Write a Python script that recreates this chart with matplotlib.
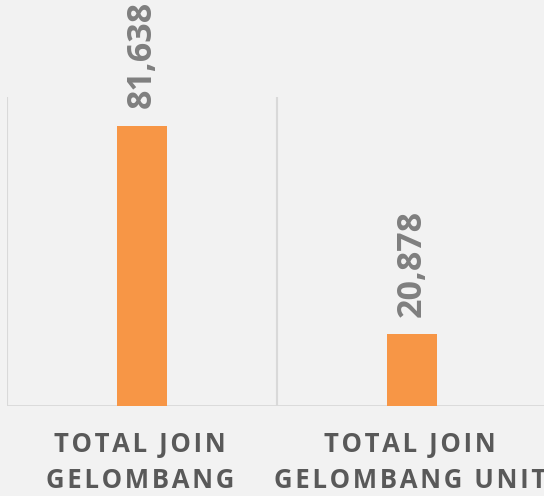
import matplotlib
matplotlib.use("Agg")
import matplotlib.pyplot as plt
import matplotlib.transforms as mtransforms

categories = ["TOTAL JOIN\nGELOMBANG", "TOTAL JOIN\nGELOMBANG UNIT"]
values = [81638, 20878]
value_labels = ["81,638", "20,878"]

bg = "#f2f2f2"
bar_color = "#f79646"
grid_color = "#d9d9d9"

plt.rcParams["font.family"] = ["Open Sans", "DejaVu Sans"]

fig = plt.figure(figsize=(5.44, 4.96), dpi=100, facecolor=bg)
ax = fig.add_axes([7 / 544, 90 / 496, 540 / 544, 309 / 496], facecolor=bg)

x = list(range(len(values)))
ax.bar(x, values, width=0.185, color=bar_color, zorder=3)

ax.set_xlim(-0.5, len(values) - 0.5)
ax.set_ylim(0, 90000)

# category separators and baseline
for b in [-0.5, 0.5, 1.5]:
    ax.axvline(b, color=grid_color, lw=1.5, zorder=1)
ax.axhline(0, color=grid_color, lw=2, zorder=2)

for s in ax.spines.values():
    s.set_visible(False)
ax.set_xticks([])
ax.set_yticks([])

for xi, v, lab in zip(x, values, value_labels):
    ax.annotate(lab, (xi, v), xytext=(0, 12.5), textcoords="offset points",
                rotation=90, ha="center", va="bottom", fontsize=24.5,
                fontweight="bold", color="#7f7f7f")

# spaced-out category labels under the axis
hair = "\u200a"
trans = mtransforms.blended_transform_factory(ax.transData, fig.transFigure)
for xi, cat in zip(x, categories):
    for j, line in enumerate(cat.split("\n")):
        txt = hair.join(line)
        ax.text(xi - 0.008, (496 - 445 - j * 36) / 496, txt, transform=trans,
                ha="center", va="center", fontsize=18.5, fontweight="bold",
                color="#595959", clip_on=False)

fig.savefig("out.png", dpi=100, facecolor=bg)
